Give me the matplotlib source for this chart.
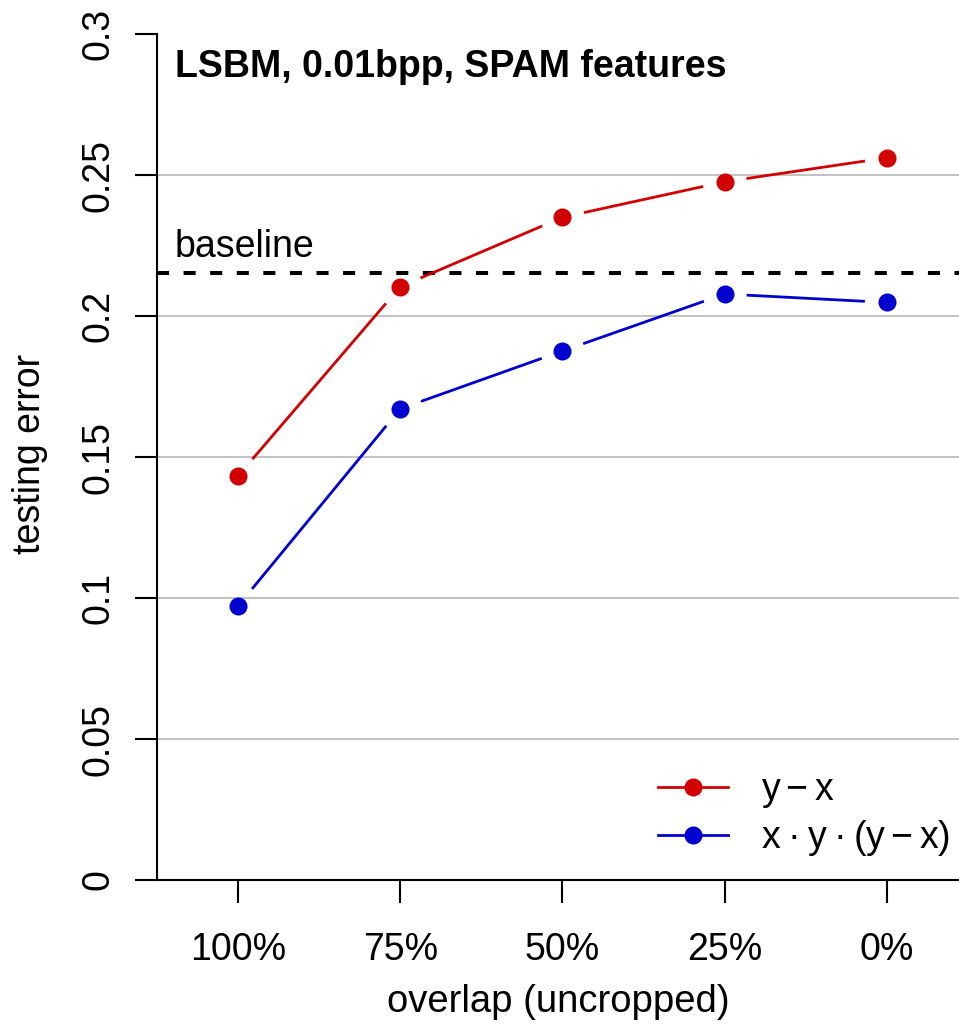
import numpy as np
import matplotlib
matplotlib.use("Agg")
import matplotlib.pyplot as plt
from matplotlib.lines import Line2D

plt.rcParams['font.family'] = ['Liberation Sans', 'DejaVu Sans']
plt.rcParams['mathtext.fontset'] = 'custom'
plt.rcParams['mathtext.rm'] = 'Liberation Sans'
plt.rcParams['mathtext.it'] = 'Liberation Sans:italic'
plt.rcParams['mathtext.bf'] = 'Liberation Sans:bold'

# ---- data ----
categories = ["100%", "75%", "50%", "25%", "0%"]
err_diff = [0.1433, 0.2104, 0.2350, 0.2476, 0.2561]          # y - x
err_prod = [0.0972, 0.1671, 0.1876, 0.2078, 0.2048]          # x*y*(y-x)
baseline = 0.2152
series_labels = [r"$\mathrm{y}-\mathrm{x}$",
                 "x\u2009·\u2009y\u2009·\u2009" + r"$(\mathrm{y}-\mathrm{x})$"]
yticks = [0, 0.05, 0.1, 0.15, 0.2, 0.25, 0.3]
ytick_labels = ["0", "0.05", "0.1", "0.15", "0.2", "0.25", "0.3"]
grid_vals = [0.05, 0.1, 0.15, 0.2, 0.25]
title = "LSBM, 0.01bpp, SPAM features"
xlabel = "overlap (uncropped)"
ylabel = "testing error"

RED = "#D20000"
BLUE = "#0000D0"
FS = 27

W, H = 959, 1026
fig = plt.figure(figsize=(W / 100, H / 100), dpi=100)
left_px, right_px, top_px, bot_px = 157, 959, 34, 880
ax = fig.add_axes([left_px / W, 1 - bot_px / H, (right_px - left_px) / W, (bot_px - top_px) / H])

x = np.arange(len(categories))
ax.set_xlim(-0.5, 4.445)
ax.set_ylim(0, 0.3)

for s in ["top", "right"]:
    ax.spines[s].set_visible(False)
for s in ["left", "bottom"]:
    ax.spines[s].set_linewidth(1.5)

ax.set_yticks(yticks)
ax.set_yticklabels(ytick_labels)
ax.set_xticks(x)
ax.set_xticklabels(categories)
ax.tick_params(axis="y", length=16, width=1.5, pad=13, labelsize=FS, labelrotation=90)
ax.tick_params(axis="x", length=16.5, width=1.5, pad=21, labelsize=FS)
for lab in ax.get_yticklabels():
    lab.set_verticalalignment("center")

for g in grid_vals:
    ax.axhline(g, color="#b8b8b8", lw=1.2, zorder=1)

ax.axhline(baseline, color="black", lw=2.9, linestyle=(0, (3, 3.6)), zorder=2)

fig.canvas.draw()


def gapped_line(xs, ys, color, gap=22):
    pts = ax.transData.transform(np.column_stack([xs, ys]))
    inv = ax.transData.inverted()
    for i in range(len(pts) - 1):
        p0, p1 = pts[i], pts[i + 1]
        d = p1 - p0
        L = np.hypot(*d)
        if L <= 2 * gap:
            continue
        u = d / L
        a = inv.transform(p0 + u * gap)
        b = inv.transform(p1 - u * gap)
        ax.plot([a[0], b[0]], [a[1], b[1]], color=color, lw=2.0, zorder=3,
                solid_capstyle="butt")
    ax.plot(xs, ys, linestyle="none", marker="o", markersize=13,
            color=color, markeredgewidth=0, zorder=4)


gapped_line(x, err_diff, RED)
gapped_line(x, err_prod, BLUE)

ax.text((175 - left_px) / (right_px - left_px), (bot_px - 77) / (bot_px - top_px), title,
        transform=ax.transAxes, fontsize=FS, fontweight="bold", ha="left", va="baseline")
ax.text((175 - left_px) / (right_px - left_px), (bot_px - 257) / (bot_px - top_px), "baseline",
        transform=ax.transAxes, fontsize=FS, ha="left", va="baseline")

handles = [Line2D([], [], color=RED, lw=2.0, marker="o", markersize=13, markeredgewidth=0),
           Line2D([], [], color=BLUE, lw=2.0, marker="o", markersize=13, markeredgewidth=0)]
ax.legend(handles, series_labels, loc="lower right", frameon=False, fontsize=FS,
          bbox_to_anchor=(950 / W, 1 - 858 / H), bbox_transform=fig.transFigure,
          borderpad=0, borderaxespad=0, handlelength=1.87, handletextpad=0.88,
          labelspacing=0.2)

fig.text(30 / W, 1 - 454 / H, ylabel, rotation=90, ha="center", va="center", fontsize=FS)
fig.text(558 / W, 1 - 1012 / H, xlabel, ha="center", va="baseline", fontsize=27.5)

fig.savefig("out.png", dpi=100)
